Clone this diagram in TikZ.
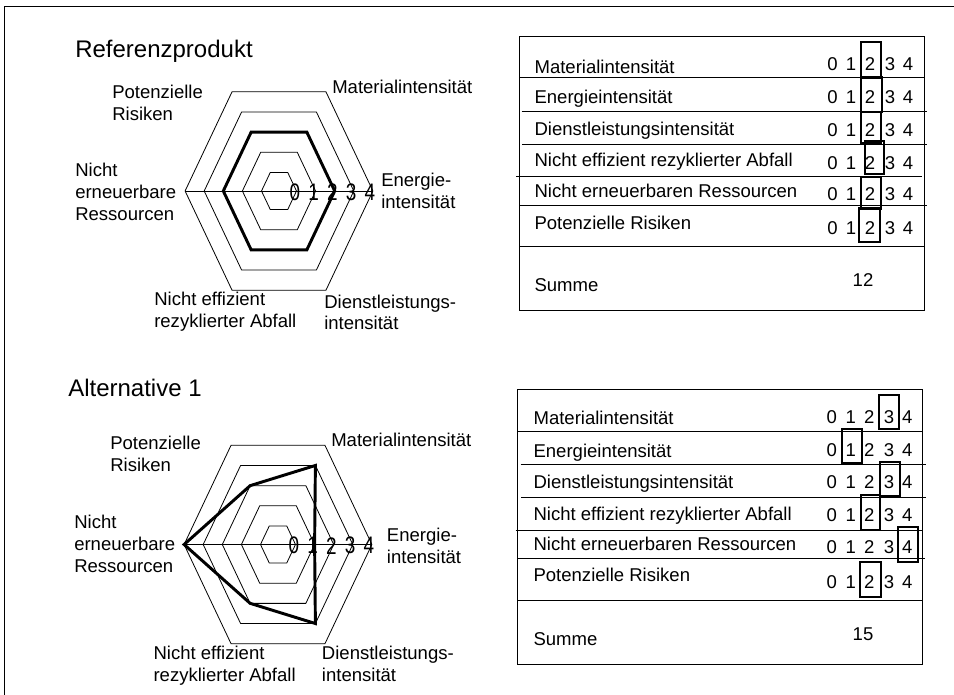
\documentclass[tikz,border=0pt]{standalone}
\usepackage{fontspec}
\setmainfont{Liberation Sans}
\usepackage{graphicx}
\tikzset{
  grid/.style={line width=0.6pt},
  score/.style={line width=2.2pt,line join=miter},
  rule/.style={line width=0.75pt},
  selbox/.style={line width=1.6pt},
  lab/.style={anchor=base west,align=left,inner sep=0pt,font=\fontsize{13.9}{16.5}\selectfont},
  ttl/.style={anchor=base west,inner sep=0pt,font=\fontsize{18}{21.6}\selectfont},
  num/.style={anchor=base,inner sep=0pt,font=\fontsize{13.9}{16.5}\selectfont},
  rnum/.style={inner sep=0pt,font=\fontsize{14.2}{16.5}\selectfont}
}
\begin{document}
\begin{tikzpicture}[x=0.75pt,y=-0.75pt,declare function={lev(\k)=17.5+19.1*\k;}]
\useasboundingbox (0,0) rectangle (954,695);
\draw[rule](4,695)--(4,6.7)--(954,6.7);
% Referenzprodukt
\node[ttl](t1) at (75,58){Referenzprodukt};
\begin{scope}[shift={(279,191)},y=0.915pt]
\foreach \k in {0,...,4}{\pgfmathsetmacro{\rr}{lev(\k)}
  \draw[grid](0:\rr)--(60:\rr)--(120:\rr)--(180:\rr)--(240:\rr)--(300:\rr)--cycle;}
\draw[grid](180:93.9)--(0:93.9);
\draw[score](0:55.7)--(60:55.7)--(120:55.7)--(180:55.7)--(240:55.7)--(300:55.7)--cycle;
\foreach \k in {0,...,4}{\pgfmathsetmacro{\rr}{16+18.7*\k}
  \node[rnum](a\k) at (\rr,-1){\scalebox{1}[1.26]{\k}};}
\end{scope}
\node[lab](ra) at (112,120.7){Potenzielle\\Risiken};
\node[lab](ma) at (332,94){Materialintensität};
\node[lab](na) at (75,221){Nicht\\erneuerbare\\Ressourcen};
\node[lab](ea) at (381,209){Energie-\\intensität};
\node[lab](fa) at (154,328){Nicht effizient\\rezyklierter Abfall};
\node[lab](sa) at (324,330){Dienstleistungs-\\intensität};
% Alternative 1
\node[ttl](t2) at (68,396.7){Alternative 1};
\begin{scope}[shift={(278,544.5)},y=0.915pt]
\foreach \k in {0,...,4}{\pgfmathsetmacro{\rr}{lev(\k)}
  \draw[grid](0:\rr)--(60:\rr)--(120:\rr)--(180:\rr)--(240:\rr)--(300:\rr)--cycle;}
\draw[grid](180:93.9)--(0:93.9);
\draw[score](0:36.6)--(60:74.8)--(120:55.7)--(180:93.9)--(240:55.7)--(300:74.8)--cycle;
\foreach \k in {0,...,4}{\pgfmathsetmacro{\rr}{16+18.7*\k}
  \node[rnum](b\k) at (\rr,-1){\scalebox{1}[1.26]{\k}};}
\end{scope}
\node[lab](rb) at (110,471.7){Potenzielle\\Risiken};
\node[lab](mb) at (331,446.7){Materialintensität};
\node[lab](nb) at (74,572.7){Nicht\\erneuerbare\\Ressourcen};
\node[lab](eb) at (386.7,563.3){Energie-\\intensität};
\node[lab](fb) at (153.3,681.7){Nicht effizient\\rezyklierter Abfall};
\node[lab](sb) at (321.7,681.7){Dienstleistungs-\\intensität};
% Tabelle oben
\draw[rule](519,36.7)rectangle(924,311);
\draw[rule](519,77.5)--(924,77.5) (521.7,111.7)--(927,111.7) (522,144.3)--(927,144.3)
  (516,176.7)--(921.7,176.7) (519,205.7)--(926.7,205.7) (519,247)--(924,247);
\foreach \t/\y [count=\i] in {Materialintensität/73.3,Energieintensität/104,Dienstleistungsintensität/135.3,
  Nicht effizient rezyklierter Abfall/166.7,Nicht erneuerbaren Ressourcen/197.7,Potenzielle Risiken/229.3}
  {\node[lab](ka\i) at (534.3,\y){\t};}
\foreach \y [count=\i] in {70.7,103.3,136.7,169.3,200.7,235}
  {\foreach \d/\x in {0/832.5,1/851,2/870,3/890,4/908}{\node[num](za\i\d) at (\x,\y){\d};}}
\foreach \xa/\ya/\xb/\yb in {860.7/42/881/77.5,861/77.5/881.7/111.7,861/111.7/881/143,865/141/884/174,861/176.7/881/209,859/208/880/242}
  {\draw[selbox](\xa,\ya)rectangle(\xb,\yb);}
\node[lab](suma) at (534.3,291.7){Summe};
\node[num](wa) at (863,287){12};
% Tabelle unten
\draw[rule](517.7,390)rectangle(922.7,664);
\draw[rule](518,431.7)--(923,431.7) (520.7,465)--(926,465) (521,497.3)--(926,497.3)
  (515.7,530)--(921.7,530) (517.7,558.3)--(925,558.3) (517.7,600)--(922.7,600);
\foreach \t/\y [count=\i] in {Materialintensität/425,Energieintensität/457.3,Dienstleistungsintensität/488.3,
  Nicht effizient rezyklierter Abfall/520,Nicht erneuerbaren Ressourcen/550.7,Potenzielle Risiken/581.7}
  {\node[lab](kb\i) at (533.3,\y){\t};}
\foreach \y [count=\i] in {423.3,456,488.3,521.7,553.3,588.3}
  {\foreach \d/\x in {0/831.7,1/850.7,2/869.3,3/889,4/907.3}{\node[num](zb\i\d) at (\x,\y){\d};}}
\foreach \xa/\ya/\xb/\yb in {879/395/899.3/429,841.7/429.3/862.3/462.7,880/461.7/900/496,860.7/495/880/530,897.7/527.3/918.3/561.7,860/561.7/881/596.7}
  {\draw[selbox](\xa,\ya)rectangle(\xb,\yb);}
\node[lab](sumb) at (533.3,645){Summe};
\node[num](wb) at (863,640){15};
\end{tikzpicture}
\end{document}
